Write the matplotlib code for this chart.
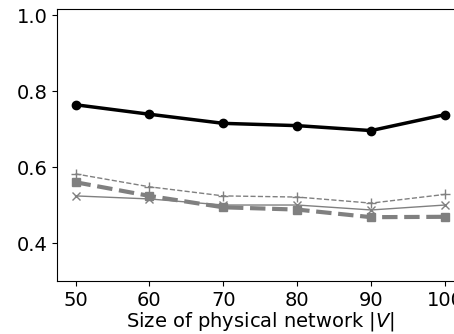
import matplotlib
matplotlib.use("Agg")
import matplotlib.pyplot as plt

sizes = [50, 60, 70, 80, 90, 100]
ours = [0.764, 0.739, 0.715, 0.709, 0.696, 0.738]
plus_series = [0.582, 0.548, 0.524, 0.521, 0.505, 0.528]
square_series = [0.560, 0.524, 0.494, 0.488, 0.468, 0.469]
cross_series = [0.524, 0.516, 0.500, 0.500, 0.487, 0.500]
yticks = [0.4, 0.6, 0.8, 1.0]

fig = plt.figure(figsize=(4.54, 3.34), dpi=100)
ax = fig.add_axes([0.1256, 0.1587, 0.8954, 0.8143])

ax.plot(sizes, ours, color="black", linewidth=2.5, marker="o", markersize=6)
ax.plot(sizes, plus_series, color="gray", linewidth=1, linestyle="--", marker="+", markersize=7)
ax.plot(sizes, square_series, color="gray", linewidth=3, linestyle="--", marker="s", markersize=6)
ax.plot(sizes, cross_series, color="gray", linewidth=1, linestyle="-", marker="x", markersize=6)

ax.set_xlim(47.5, 102.5)
ax.set_ylim(0.3, 1.016)
ax.set_xticks(sizes)
ax.set_yticks(yticks)
ax.tick_params(labelsize=14)
ax.set_xlabel("Size of physical network $|V|$", fontsize=14, labelpad=0)

fig.savefig("out.png", dpi=100)
